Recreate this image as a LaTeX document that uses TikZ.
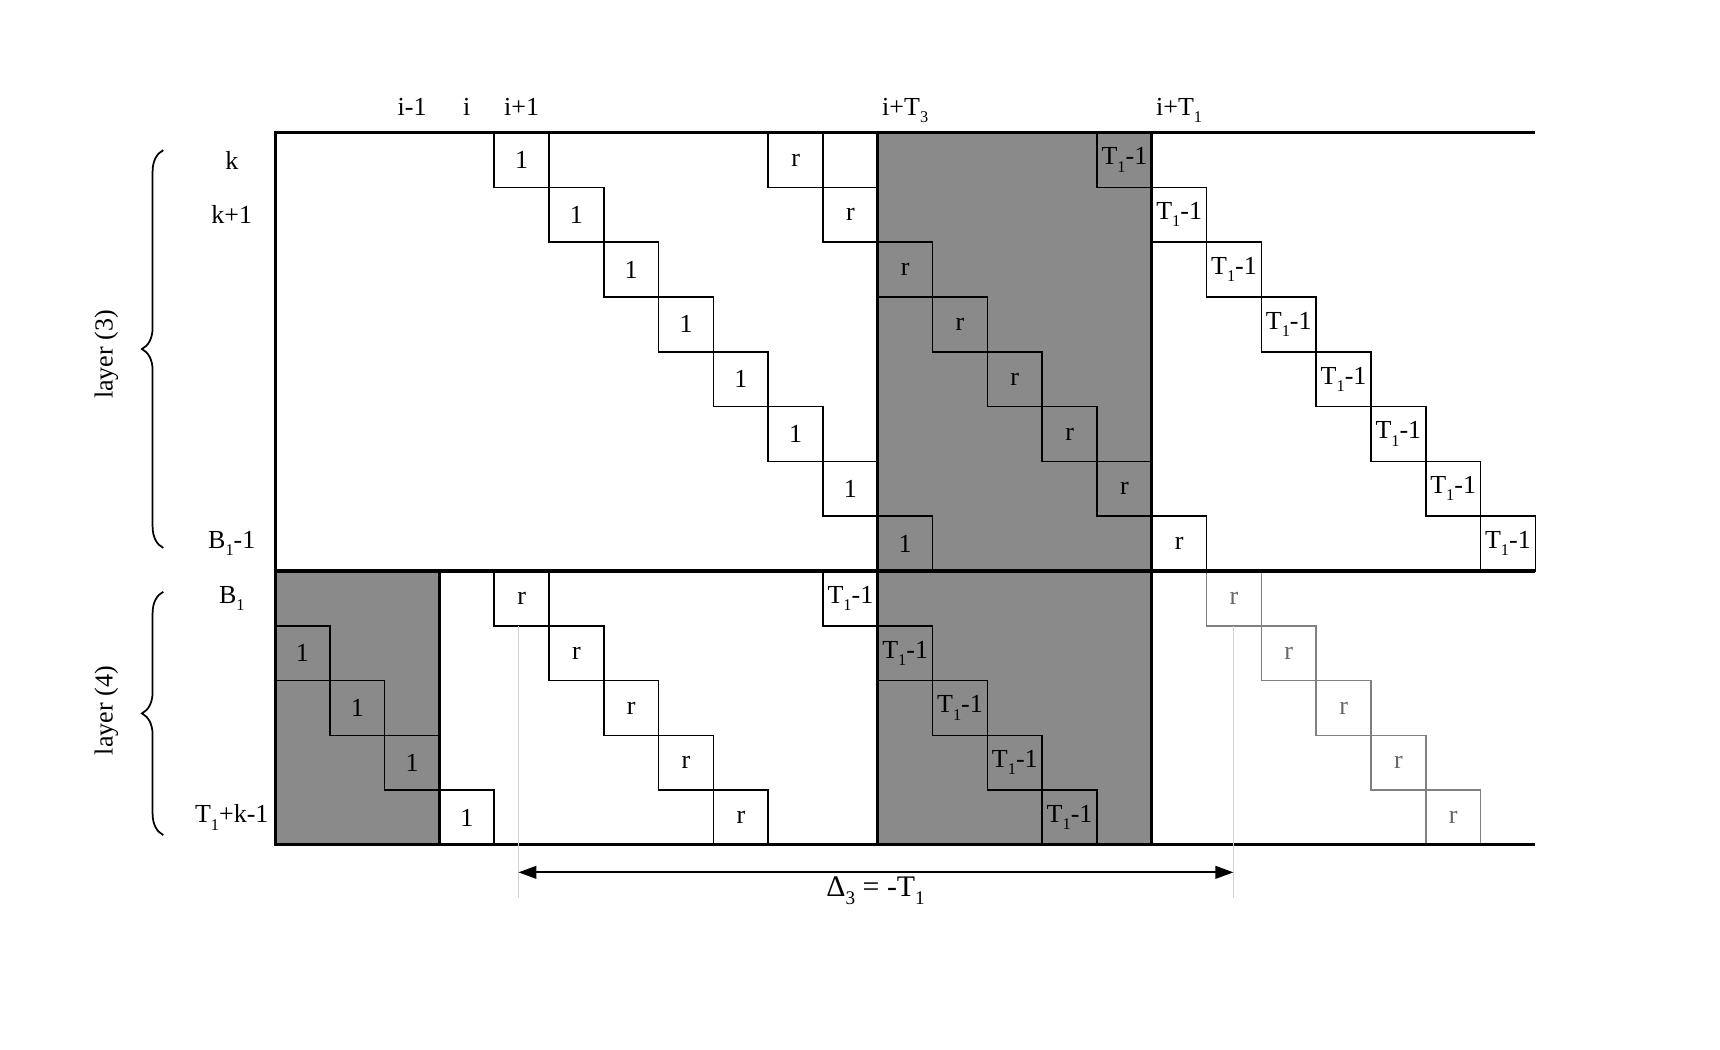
\documentclass[tikz,border=0pt]{standalone}
\usepackage{fontspec}
\setmainfont{Liberation Serif}
\usetikzlibrary{decorations.pathreplacing,arrows.meta}
\newcommand\sbs[1]{\raisebox{-0.6ex}{\fontsize{8.5}{9}\selectfont #1}}
\begin{document}
\begin{tikzpicture}[
  every node/.style={font=\fontsize{13.5}{16}\selectfont},
  cellbox/.style={draw, line width=0.8pt, minimum size=1cm, inner sep=0pt},
  faintbox/.style={cellbox, draw=black!50, text=black!60},
  frame/.style={line width=1.6pt},
  shade/.style={fill=black!46},
  lbl/.style={inner sep=0pt},
  guide/.style={draw=black!18, line width=0.5pt},
  bracestyle/.style={decorate, decoration={brace, amplitude=0.39cm}, line width=0.9pt},
]
\useasboundingbox (-5.02,-3.74) rectangle (26.37,15.42);
% shaded regions
\fill[shade] (11,0) rectangle (16,13);
\fill[shade] (0,0) rectangle (3,5);
% layer (3)
\foreach \r in {0,...,7} {
  \node[cellbox] (one\r) at ({4.5+\r},{12.5-\r}) {1};
  \node[cellbox] (rr\r) at ({9.5+\r},{12.5-\r}) {r};
  \node[cellbox] (tt\r) at ({15.5+\r},{12.5-\r}) {T\sbs{1}-1};
}
\node[cellbox] (empty) at (10.5,12.5) {};
% layer (4)
\foreach \j in {1,...,4} {
  \node[cellbox] (lone\j) at ({\j-0.5},{4.5-\j}) {1};
}
\foreach \j in {0,...,4} {
  \node[cellbox] (lr\j) at ({4.5+\j},{4.5-\j}) {r};
  \node[cellbox] (lt\j) at ({10.5+\j},{4.5-\j}) {T\sbs{1}-1};
  \node[faintbox] (fr\j) at ({17.5+\j},{4.5-\j}) {r};
}
% frame
\draw[frame] (23,13) -- (0,13) -- (0,0) -- (23,0);
\draw[frame] (0,5) -- (23,5);
\draw[frame] (11,0) -- (11,13);
\draw[frame] (16,0) -- (16,13);
\draw[frame] (3,0) -- (3,5);
% column labels
\node[lbl, anchor=base] (ci1) at (2.5,13.32) {i-1};
\node[lbl, anchor=base] (ci) at (3.5,13.32) {i};
\node[lbl, anchor=base] (cip) at (4.5,13.32) {i+1};
\node[lbl, anchor=base] (cit3) at (11.5,13.32) {i+T\sbs{3}};
\node[lbl, anchor=base] (cit1) at (16.5,13.32) {i+T\sbs{1}};
% row labels
\node[lbl] (rk) at (-0.79,12.5) {k};
\node[lbl] (rk1) at (-0.79,11.5) {k+1};
\node[lbl] (rb1) at (-0.79,5.5) {B\sbs{1}-1};
\node[lbl] (rb) at (-0.79,4.5) {B\sbs{1}};
\node[lbl] (rt) at (-0.79,0.5) {T\sbs{1}+k-1};
% braces
\coordinate (b3a) at (-2.04,5.42);
\coordinate (b3b) at (-2.04,12.68);
\coordinate (b4a) at (-2.04,0.18);
\coordinate (b4b) at (-2.04,4.62);
\draw[bracestyle] (b3a) -- (b3b);
\draw[bracestyle] (b4a) -- (b4b);
\node[lbl, rotate=90] (l3) at (-3.08,8.95) {layer (3)};
\node[lbl, rotate=90] (l4) at (-3.08,2.45) {layer (4)};
% guides and shift arrow
\coordinate (g1a) at (4.44,4);
\coordinate (g1b) at (4.44,-0.97);
\coordinate (g2a) at (17.49,4);
\coordinate (g2b) at (17.49,-0.97);
\draw[guide] (g1a) -- (g1b);
\draw[guide] (g2a) -- (g2b);
\coordinate (al) at (4.44,-0.5);
\coordinate (ar) at (17.49,-0.5);
\draw[line width=1.2pt, {Triangle[length=3.3mm,width=2.3mm]}-{Triangle[length=3.3mm,width=2.3mm]}] (al) -- (ar);
\node[lbl, anchor=base, font=\fontsize{15.5}{18}\selectfont] (dl) at (10.96,-0.94) {Δ\raisebox{-0.6ex}{\fontsize{10}{11}\selectfont 3} = -T\raisebox{-0.6ex}{\fontsize{10}{11}\selectfont 1}};
\end{tikzpicture}
\end{document}
